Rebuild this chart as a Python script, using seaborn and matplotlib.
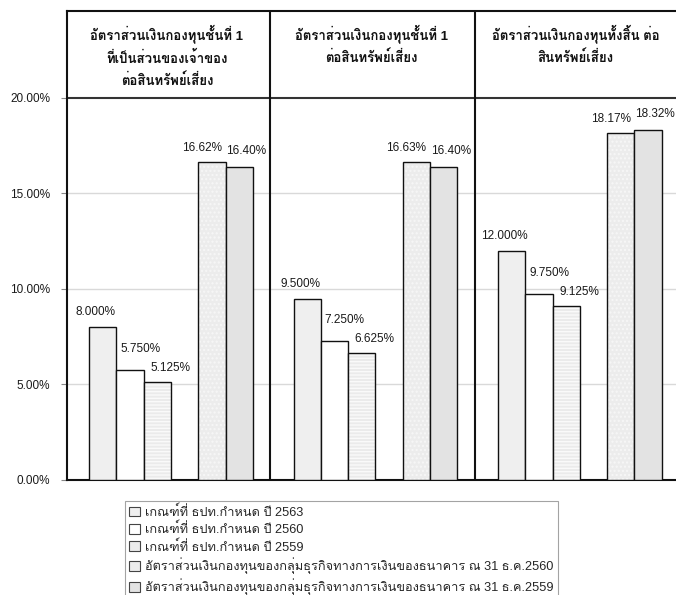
import matplotlib
matplotlib.use("Agg")
import matplotlib.pyplot as plt
from matplotlib.colors import to_rgba
from matplotlib.patches import Patch
import numpy as np
import pandas as pd
import seaborn as sns

# Capital adequacy ratios (percent)
groups = [
    "อัตราส่วนเงินกองทุนชั้นที่ 1\nที่เป็นส่วนของเจ้าของ\nต่อสินทรัพย์เสี่ยง",
    "อัตราส่วนเงินกองทุนชั้นที่ 1\nต่อสินทรัพย์เสี่ยง",
    "อัตราส่วนเงินกองทุนทั้งสิ้น ต่อ\nสินทรัพย์เสี่ยง",
]
series_names = [
    "เกณฑ์ที่ ธปท.กำหนด ปี 2563",
    "เกณฑ์ที่ ธปท.กำหนด ปี 2560",
    "เกณฑ์ที่ ธปท.กำหนด ปี 2559",
    "อัตราส่วนเงินกองทุนของกลุ่มธุรกิจทางการเงินของธนาคาร ณ 31 ธ.ค.2560",
    "อัตราส่วนเงินกองทุนของกลุ่มธุรกิจทางการเงินของธนาคาร ณ 31 ธ.ค.2559",
]
req_2563 = [8.000, 9.500, 12.000]
req_2560 = [5.750, 7.250, 9.750]
req_2559 = [5.125, 6.625, 9.125]
actual_2560 = [16.62, 16.63, 18.17]
actual_2559 = [16.40, 16.40, 18.32]
y_ticks = [0, 5, 10, 15, 20]

values = [req_2563, req_2560, req_2559, actual_2560, actual_2559]
rows = []
for name, vals in zip(series_names, values):
    for g, v in zip(groups, vals):
        rows.append({"group": g, "series": name, "value": v})
df = pd.DataFrame(rows)

# an empty hue level leaves a gap between the requirements and the actual ratios
gap = " "
hue_order = series_names[:3] + [gap] + series_names[3:]
face = ["#efefef", "#ffffff", "#ebebeb", "#ececec", "#e3e3e3"]
hatches = [None, None, "-----", "....", None]
hatch_cols = [None, None, "#fafafa", "#f7f7f7", None]
palette = dict(zip(series_names, face))
palette[gap] = "#ffffff"
label_fmt = ["{:.3f}%", "{:.3f}%", "{:.3f}%", "{:.2f}%", "{:.2f}%"]
label_off = [(-7, 15), (10, 21), (13, 14), (-10, 14), (7, 16)]

sns.set_theme(style="white")
plt.rcParams["font.family"] = ["Liberation Sans", "Loma"]
plt.rcParams["hatch.linewidth"] = 1.0

fig = plt.figure(figsize=(6.76, 5.95), dpi=100)
ax = fig.add_axes([66.7 / 676, 1 - 480 / 595, 615.5 / 676, 469 / 595])

sns.barplot(data=df, x="group", y="value", hue="series", hue_order=hue_order,
            order=groups, palette=palette, edgecolor="#111111", linewidth=1.0,
            width=0.8, saturation=1, legend=False, ax=ax, zorder=3)

containers = [c for c in ax.containers if len(c) > 0]
for i, cont in enumerate(containers):
    for bar in cont:
        if hatches[i]:
            bar.set_hatch(hatches[i])
            bar._hatch_color = to_rgba(hatch_cols[i])
    labels = [label_fmt[i].format(v) for v in cont.datavalues]
    for bar, lab in zip(cont, labels):
        ax.annotate(lab, (bar.get_x() + bar.get_width() / 2, bar.get_height()),
                    xytext=label_off[i], textcoords="offset pixels",
                    ha="center", va="center", fontsize=8.5, color="#1a1a1a")

ax.set_xlim(-0.51, 2.5)
ax.set_ylim(0, 24.55)
ax.set_xticks([])
ax.set_xlabel("")
ax.set_ylabel("")
ax.set_yticks(y_ticks)
ax.set_yticklabels(["{:.2f}%".format(t) for t in y_ticks], fontsize=8.5, color="#1a1a1a")
ax.tick_params(axis="y", direction="out", length=4, width=0.8, color="#888888", left=True, pad=8)

for t in y_ticks[1:-1]:
    ax.axhline(t, color="#d9d9d9", lw=1.0, zorder=1)
ax.axhline(20, color="#333333", lw=1.5, zorder=2)
for xs in (0.485, 1.485):
    ax.axvline(xs, color="#111111", lw=1.5, zorder=4)

for side in ("left", "top", "bottom"):
    ax.spines[side].set_color("#111111")
    ax.spines[side].set_linewidth(1.5)
ax.spines["right"].set_visible(False)

for k, g in enumerate(groups):
    ax.text(k - 0.02, 23.85, g, ha="center", va="top", fontsize=9.5, fontweight="bold",
            linespacing=1.62, color="#111111")

handles = [Patch(facecolor=c, edgecolor="#444444", lw=0.8) for c in face]
leg = fig.legend(handles, series_names, loc="upper left",
                 bbox_to_anchor=(125 / 676, 1 - 501 / 595), frameon=True,
                 fancybox=False, fontsize=9.2, handlelength=0.8, handleheight=0.8,
                 handletextpad=0.4, labelspacing=0.3, borderpad=0.35,
                 borderaxespad=0)
leg.get_frame().set_edgecolor("#8c8c8c")
leg.get_frame().set_linewidth(0.8)

fig.savefig("out.png", dpi=100)
